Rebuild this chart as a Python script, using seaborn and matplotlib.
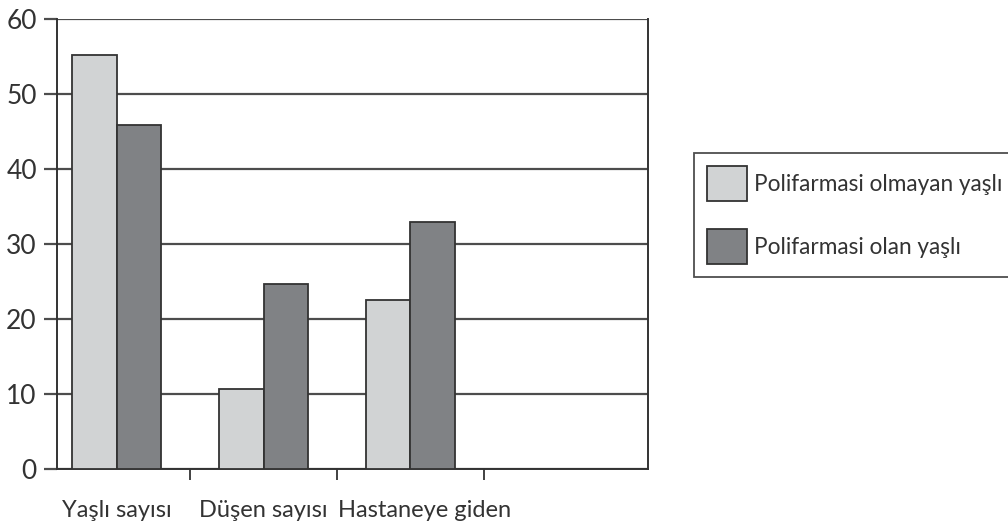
import numpy as np
import pandas as pd
import matplotlib
matplotlib.use("Agg")
import matplotlib.pyplot as plt
import matplotlib.transforms as mtransforms
import seaborn as sns

# data
categories = ["Yaşlı sayısı", "Düşen sayısı", "Hastaneye giden"]
series_names = ["Polifarmasi olmayan yaşlı", "Polifarmasi olan yaşlı"]
without_poly = [55.2, 10.7, 22.5]
with_poly = [45.9, 24.7, 33.0]
y_ticks = [0, 10, 20, 30, 40, 50, 60]

light = "#d1d3d4"
dark = "#808285"
line_col = "#4d4d4d"
text_col = "#333333"

df = pd.DataFrame({
    "kategori": categories * 2,
    "grup": [series_names[0]] * 3 + [series_names[1]] * 3,
    "deger": without_poly + with_poly,
})

sns.set_style("white")
plt.rcParams["font.family"] = ["Lato", "DejaVu Sans"]

fig = plt.figure(figsize=(10.08, 5.32), dpi=100)
ax = fig.add_axes([57 / 1008, 1 - 469 / 532, (648 - 57) / 1008, (469 - 19) / 532])

sns.barplot(data=df, x="kategori", y="deger", hue="grup", order=categories,
            hue_order=series_names, palette=[light, dark], width=0.6,
            edgecolor="#333333", linewidth=1.3, saturation=1, ax=ax, zorder=3)

ax.set_xlim(-0.405, 3.616)
ax.set_ylim(0, 60)
ax.set_xlabel("")
ax.set_ylabel("")

# grid lines
ax.set_yticks(y_ticks)
ax.yaxis.grid(True, color=line_col, linewidth=1.6, zorder=0)
ax.set_axisbelow(True)
ax.tick_params(axis="y", direction="out", length=9.5, width=1.6, color=line_col,
               labelsize=19, labelcolor=text_col, pad=5, left=True)

# x ticks between groups, labels at group centres
ax.set_xticks([0.5, 1.5, 2.5])
ax.set_xticklabels([])
ax.set_xticks([0, 1, 2], minor=True)
ax.set_xticklabels(categories, minor=True)
ax.tick_params(axis="x", which="major", direction="out", length=8, width=1.3,
               color="#333333", bottom=True)
ax.tick_params(axis="x", which="minor", length=0, labelsize=17,
               labelcolor=text_col, pad=22)

# the last label sits a little to the right in the original
lab = ax.get_xticklabels(minor=True)[2]
lab.set_transform(lab.get_transform() + mtransforms.ScaledTranslation(14 / 100, 0, fig.dpi_scale_trans))

for side in ["left", "bottom", "right"]:
    ax.spines[side].set_visible(True)
    ax.spines[side].set_color("#333333")
    ax.spines[side].set_linewidth(1.4)
ax.spines["top"].set_visible(False)

handles, labels = ax.get_legend_handles_labels()
ax.get_legend().remove()
leg = fig.legend(handles, labels, loc="upper left", bbox_to_anchor=(694 / 1008, 1 - 153 / 532),
                 borderaxespad=0, frameon=True, fancybox=False, edgecolor="#222222",
                 fontsize=16.3, handlelength=1.77, handleheight=2.0, handletextpad=0.31,
                 labelspacing=1.24, borderpad=0.57, labelcolor=text_col)
leg.get_frame().set_linewidth(1.3)

fig.savefig("out.png", dpi=100)
